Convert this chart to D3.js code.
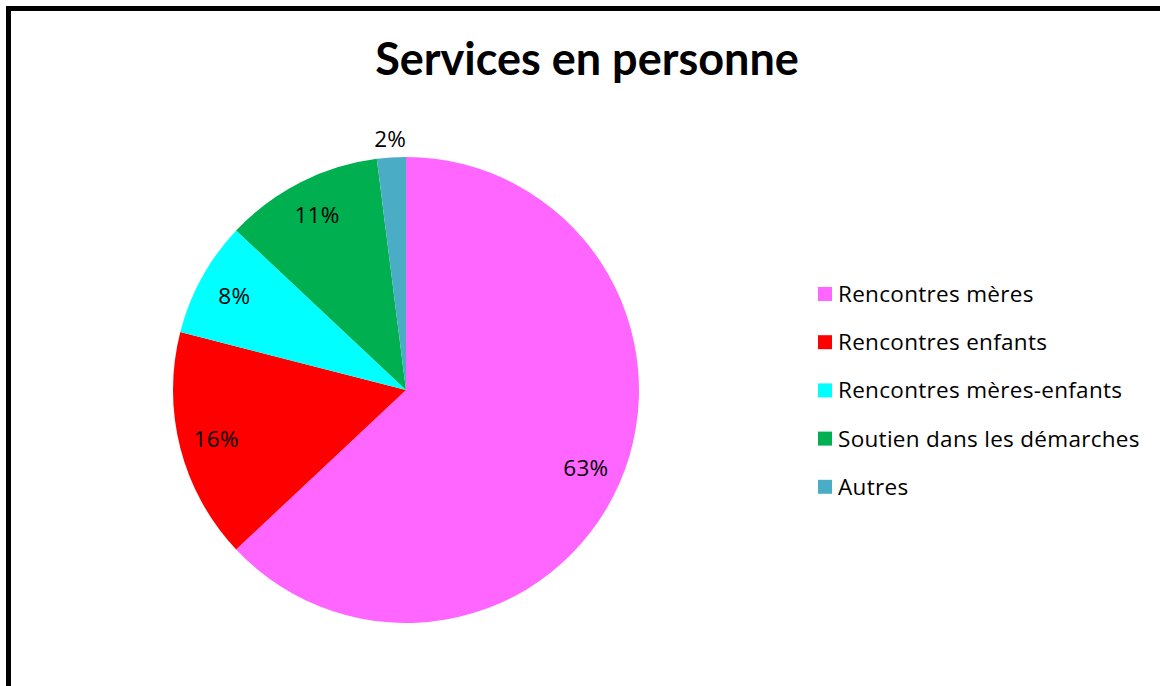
<!DOCTYPE html>
<html>
<head>
  <meta charset="utf-8">
  <title>Services en personne</title>
  <script src="https://cdn.jsdelivr.net/npm/d3@7"></script>
  <style>
    body { margin: 0; background: #fff; }
    text { font-family: "Open Sans", Lato, sans-serif; fill: #000; }
    .title { font-family: Lato, "Open Sans", sans-serif; }
  </style>
</head>
<body>
<svg id="chart" width="1160" height="686" style="display: block;"></svg>
<script>
  // data
  const categories = ["Rencontres mères", "Rencontres enfants", "Rencontres mères-enfants", "Soutien dans les démarches", "Autres"];
  const values = [63, 16, 8, 11, 2];
  const colors = ["#FF66FF", "#FF0000", "#00FFFF", "#00B050", "#4BACC6"];
  const title = "Services en personne";

  const svg = d3.select("#chart");

  // outer frame, only left and top edges are inside the picture
  svg.append("rect")
    .attr("x", 8.5).attr("y", 8.5)
    .attr("width", 1300).attr("height", 900)
    .attr("fill", "#fff")
    .attr("stroke", "#000")
    .attr("stroke-width", 5);

  svg.append("text")
    .attr("class", "title")
    .attr("x", 587).attr("y", 75)
    .attr("text-anchor", "middle")
    .attr("font-size", 45)
    .attr("font-weight", "bold")
    .text(title);

  const cx = 406, cy = 390, radius = 233;
  const total = d3.sum(values);

  const pie = d3.pie().sort(null).value(d => d);
  const arcs = pie(values);
  const arc = d3.arc().innerRadius(0).outerRadius(radius);
  const labelIn = d3.arc().innerRadius(196).outerRadius(196);
  const labelOut = d3.arc().innerRadius(252).outerRadius(252);

  const g = svg.append("g").attr("transform", `translate(${cx},${cy})`);

  g.selectAll("path")
    .data(arcs)
    .join("path")
    .attr("d", arc)
    .attr("fill", (d, i) => colors[i]);

  g.selectAll("text.pct")
    .data(arcs)
    .join("text")
    .attr("class", "pct")
    .attr("transform", d => {
      const c = (d.value / total < 0.05 ? labelOut : labelIn).centroid(d);
      return `translate(${c[0]},${c[1]})`;
    })
    .attr("text-anchor", "middle")
    .attr("dy", "0.36em")
    .attr("font-size", 22.5)
    .attr("letter-spacing", 0.3)
    .text(d => Math.round(d.value / total * 100) + "%");

  // legend
  const legend = svg.append("g").attr("transform", "translate(818,302)");
  const rows = legend.selectAll("g")
    .data(categories)
    .join("g")
    .attr("transform", (d, i) => `translate(0,${i * 48.2})`);

  rows.append("rect")
    .attr("x", 0).attr("y", -15)
    .attr("width", 14).attr("height", 14)
    .attr("fill", (d, i) => colors[i]);

  rows.append("text")
    .attr("x", 20).attr("y", 0)
    .attr("font-size", 22.5)
    .attr("letter-spacing", 0.3)
    .text(d => d);
</script>
</body>
</html>
